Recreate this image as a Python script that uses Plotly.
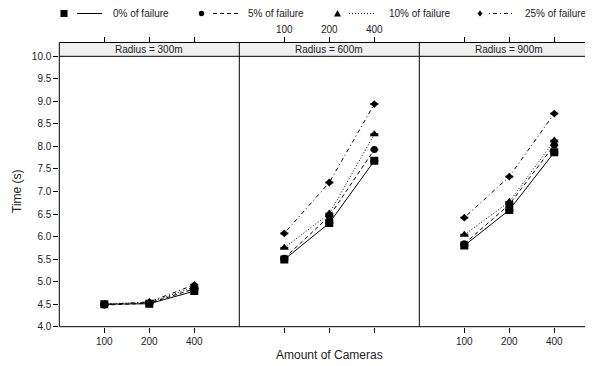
import plotly.graph_objects as go

# ---------------- data ----------------
cameras = ["100", "200", "400"]
cam_pos = [1, 2, 3]
panels = ["Radius = 300m", "Radius = 600m", "Radius = 900m"]
series_names = ["0% of failure", "5% of failure", "10% of failure", "25% of failure"]

r300_f0 = [4.50, 4.51, 4.79]
r300_f5 = [4.48, 4.52, 4.84]
r300_f10 = [4.51, 4.54, 4.88]
r300_f25 = [4.49, 4.55, 4.93]

r600_f0 = [5.49, 6.30, 7.68]
r600_f5 = [5.52, 6.45, 7.93]
r600_f10 = [5.75, 6.51, 8.27]
r600_f25 = [6.07, 7.20, 8.94]

r900_f0 = [5.80, 6.59, 7.87]
r900_f5 = [5.84, 6.71, 8.03]
r900_f10 = [6.04, 6.77, 8.13]
r900_f25 = [6.42, 7.33, 8.73]

err = [0.01, 0.01, 0.01]

y_ticks = [4.0, 4.5, 5.0, 5.5, 6.0, 6.5, 7.0, 7.5, 8.0, 8.5, 9.0, 9.5, 10.0]

# ---------------- layout constants ----------------
W, H = 593, 366
OFF = 8  # page body margin offset
FONT = "Liberation Sans, Arial, Helvetica, sans-serif"
TXT = "#222222"


def px(x):
    return (x - OFF) / W


def py(y):
    return 1 - (y - OFF) / H


panel_left = [59.3, 239.3, 419.3]
panel_w = 180.0
data_bottom, data_top, strip_top = 326.7, 56.3, 42.5

styles = [
    dict(symbol="square", size=8, dash="solid"),
    dict(symbol="circle", size=7, dash="4px,3px"),
    dict(symbol="triangle-up", size=8, dash="1px,2px"),
    dict(symbol="diamond", size=6, dash="1px,3px,4px,3px"),
]

data = [
    [r300_f0, r300_f5, r300_f10, r300_f25],
    [r600_f0, r600_f5, r600_f10, r600_f25],
    [r900_f0, r900_f5, r900_f10, r900_f25],
]

fig = go.Figure()

for p in range(3):
    xa = "x" if p == 0 else f"x{p+1}"
    ya = "y" if p == 0 else f"y{p+1}"
    for s in range(4):
        st = styles[s]
        fig.add_trace(go.Scatter(
            x=cam_pos, y=data[p][s], xaxis=xa, yaxis=ya,
            mode="lines+markers", name=series_names[s], showlegend=False,
            line=dict(color="black", width=1, dash=st["dash"]),
            marker=dict(symbol=st["symbol"], size=st["size"], color="black",
                        line=dict(width=0)),
            error_y=dict(type="data", array=err, color="black", thickness=1, width=4),
        ))

# empty traces so the top axes (above the strips) get drawn
for p in range(3):
    fig.add_trace(go.Scatter(x=[None], y=[None], xaxis=f"x{p+4}", yaxis="y4",
                             mode="markers", showlegend=False, hoverinfo="skip"))

layout = dict(
    width=W, height=H,
    margin=dict(l=0, r=0, t=0, b=0),
    paper_bgcolor="white", plot_bgcolor="rgba(0,0,0,0)",
    font=dict(family=FONT, size=10, color=TXT),
    showlegend=False,
)

ydom = [py(data_bottom), py(data_top)]
for p in range(3):
    x0 = panel_left[p]
    x1 = x0 + panel_w
    xr = [0, 4]
    key = "xaxis" if p == 0 else f"xaxis{p+1}"
    layout[key] = dict(
        domain=[px(x0), px(x1)], range=xr, anchor="y" if p == 0 else f"y{p+1}",
        tickvals=cam_pos, ticktext=cameras, showticklabels=(p != 1),
        ticks="outside", ticklen=5, tickcolor="black", tickwidth=1,
        showgrid=False, zeroline=False, showline=False,
        tickfont=dict(size=10, color=TXT, family=FONT), automargin=False,
    )
    tkey = f"xaxis{p+4}"
    layout[tkey] = dict(
        domain=[px(x0), px(x1)], range=xr, anchor="y4", side="top",
        tickvals=cam_pos, ticktext=cameras, showticklabels=(p == 1),
        ticks="outside", ticklen=5, tickcolor="black", tickwidth=1,
        showgrid=False, zeroline=False, showline=False,
        tickfont=dict(size=10, color=TXT, family=FONT), automargin=False,
    )
    ykey = "yaxis" if p == 0 else f"yaxis{p+1}"
    layout[ykey] = dict(
        domain=ydom, range=[4, 10], anchor="x" if p == 0 else f"x{p+1}",
        tickvals=y_ticks if p == 0 else [], tickformat=".1f",
        showticklabels=(p == 0),
        ticks="outside" if p == 0 else "", ticklen=5, tickcolor="black", tickwidth=1,
        showgrid=False, zeroline=False, showline=False,
        tickfont=dict(size=10, color=TXT, family=FONT), automargin=False,
    )

layout["yaxis4"] = dict(domain=[py(data_top), py(strip_top)], range=[0, 1], anchor="x4",
                        showticklabels=False, ticks="", showgrid=False, zeroline=False,
                        showline=False, fixedrange=True)

shapes = []
annotations = []

# strips
for p in range(3):
    x0 = panel_left[p]
    x1 = x0 + panel_w
    shapes.append(dict(type="rect", xref="paper", yref="paper",
                       x0=px(x0), x1=min(px(x1), 1.0), y0=py(data_top), y1=py(strip_top),
                       fillcolor="#f0f0f0", line=dict(width=0), layer="below"))
    annotations.append(dict(xref="paper", yref="paper", x=px(x0 + panel_w / 2),
                            y=py((data_top + strip_top) / 2), text=panels[p],
                            showarrow=False, font=dict(size=10, color=TXT, family=FONT),
                            xanchor="center", yanchor="middle"))

# borders (the right edge of the last panel lies beyond the visible area)
for xb in panel_left:
    shapes.append(dict(type="line", xref="paper", yref="paper", x0=px(xb), x1=px(xb),
                       y0=py(data_bottom), y1=py(strip_top), line=dict(color="black", width=1)))
for yb in [data_bottom, data_top, strip_top]:
    shapes.append(dict(type="line", xref="paper", yref="paper", x0=px(panel_left[0]),
                       x1=1.0,
                       y0=py(yb), y1=py(yb), line=dict(color="black", width=1)))

# legend
leg_y = 13.5
leg_items = [
    (64, 77, 102, 111),
    (201.5, 213, 238, 245.5),
    (337.5, 349, 374, 387),
    (480, 489, 514, 523),
]
for i, (mx, lx0, lx1, tx) in enumerate(leg_items):
    st = styles[i]
    if st["symbol"] == "square":
        shapes.append(dict(type="rect", xref="paper", yref="paper", x0=px(mx - 3.5), x1=px(mx + 3.5),
                           y0=py(leg_y + 3.5), y1=py(leg_y - 3.5), fillcolor="black", line=dict(width=0)))
    elif st["symbol"] == "circle":
        shapes.append(dict(type="circle", xref="paper", yref="paper", x0=px(mx - 2.7), x1=px(mx + 2.7),
                           y0=py(leg_y + 2.7), y1=py(leg_y - 2.7), fillcolor="black", line=dict(width=0)))
    elif st["symbol"] == "triangle-up":
        path = (f"M {px(mx-3.5)} {py(leg_y+3)} L {px(mx+3.5)} {py(leg_y+3)} "
                f"L {px(mx)} {py(leg_y-3.5)} Z")
        shapes.append(dict(type="path", xref="paper", yref="paper", path=path,
                           fillcolor="black", line=dict(width=0)))
    else:
        path = (f"M {px(mx-2.5)} {py(leg_y)} L {px(mx)} {py(leg_y-3)} "
                f"L {px(mx+2.5)} {py(leg_y)} L {px(mx)} {py(leg_y+3)} Z")
        shapes.append(dict(type="path", xref="paper", yref="paper", path=path,
                           fillcolor="black", line=dict(width=0)))
    shapes.append(dict(type="line", xref="paper", yref="paper", x0=px(lx0), x1=px(lx1),
                       y0=py(leg_y), y1=py(leg_y), line=dict(color="black", width=1, dash=st["dash"])))
    annotations.append(dict(xref="paper", yref="paper", x=px(tx), y=py(leg_y), text=series_names[i],
                            showarrow=False, xanchor="left", yanchor="middle",
                            font=dict(size=10, color=TXT, family=FONT)))

# axis titles
annotations.append(dict(xref="paper", yref="paper", x=px(329), y=py(355), text="Amount of Cameras",
                        showarrow=False, xanchor="center", yanchor="middle",
                        font=dict(size=12, color=TXT, family=FONT)))
annotations.append(dict(xref="paper", yref="paper", x=px(17), y=py(191), text="Time (s)",
                        showarrow=False, xanchor="center", yanchor="middle", textangle=-90,
                        font=dict(size=12, color=TXT, family=FONT)))

layout["shapes"] = shapes
layout["annotations"] = annotations
fig.update_layout(**layout)

fig.write_html("out.html")
